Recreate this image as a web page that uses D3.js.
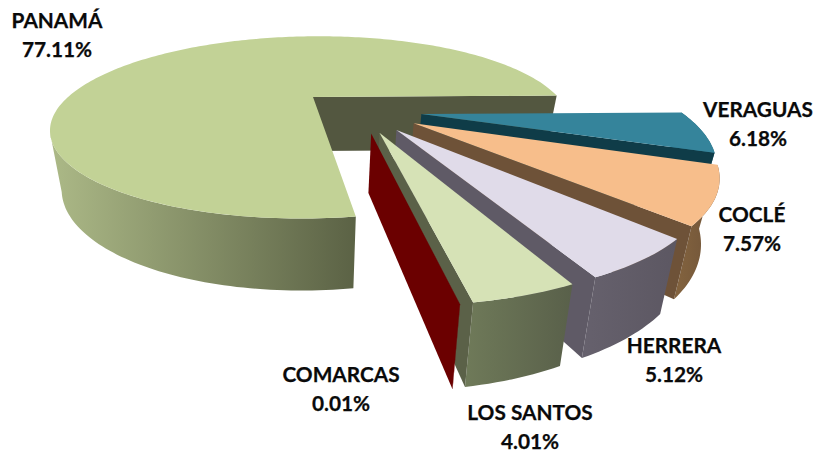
<!DOCTYPE html>
<html>
<head>
<meta charset="utf-8">
<script src="https://cdn.jsdelivr.net/npm/d3@7/dist/d3.min.js"></script>
<style>
html,body{margin:0;padding:0;background:#fff}
text{font-family:Lato,"Open Sans",sans-serif;font-weight:700;font-size:20.8px;fill:#0a0a0a;text-anchor:middle;stroke:#0a0a0a;stroke-width:.25px}
</style>
</head>
<body>
<svg id="c" width="817" height="454"></svg>
<script>
const categories = ["VERAGUAS","COCLÉ","HERRERA","LOS SANTOS","COMARCAS","PANAMÁ"];
const shares     = [6.18, 7.57, 5.12, 4.01, 0.01, 77.11];
const shareLabels = ["6.18%","7.57%","5.12%","4.01%","0.01%","77.11%"];

// styling and layout, separate from the data
const topColors  = ["#35849b","#f7be8b","#e0dbe9","#d6e2b6","#6b0000","#c2d296"];
const sideColors = ["#0f3c48","#6e5238","#5f5a66","#5b6148","#6b0000","#535740"];
const wallFrom   = ["#2a6a7c","#84643f","#66616d","#6f7a59","#6b0000","#acb987"];
const wallTo     = ["#2a6a7c","#6e5238","#5c5762","#59604a","#6b0000","#5b6245"];
const labelAt    = [[758,117],[752,222],[674,353],[530,420],[341,382],[57,28]];
const labelGap = 29;
const drawOrder  = [5,0,1,2,3,4];

const startDeg = 89, explode = 0.24;
const topPlane = {x0:313, y0:97,  ax:245, sx:-8, by:81, p:1/3};
const botPlane = {x0:313, y0:151, ax:234, sx:-8, by:93, p:1/3};
const project = (pl,u,v) => { const w = 1 - pl.p*v; return [pl.x0 + (pl.ax*u + pl.sx*v)/w, pl.y0 + pl.by*v/w]; };

const arcs = d3.pie().sort(null).value(d=>d)
  .startAngle(startDeg*Math.PI/180).endAngle(startDeg*Math.PI/180 + 2*Math.PI)(shares);
const dir = a => [Math.sin(a), -Math.cos(a)];
const mid = d => (d.startAngle + d.endAngle)/2;
const basePanama = dir(mid(arcs[5]));

const svg = d3.select("#c");
const defs = svg.append("defs");
const line = d3.line();

function samples(a,b){
  const n = Math.max(2, Math.ceil(Math.abs(b-a)/0.02));
  return d3.range(n+1).map(i => a + (b-a)*i/n);
}

drawOrder.forEach(i => {
  const d = arcs[i];
  const m = dir(mid(d));
  const cu = explode*(m[0]-basePanama[0]), cv = explode*(m[1]-basePanama[1]);
  const rim = (pl,a) => { const q = dir(a); return project(pl, cu+q[0], cv+q[1]); };
  const T0 = project(topPlane,cu,cv), B0 = project(botPlane,cu,cv);
  const g = svg.append("g");

  // outer wall: for the large slice only the front-facing part, up to the left tangent
  const ws = d.startAngle;
  const we = i===5 ? d.startAngle + 76*Math.PI/180 : d.endAngle;
  const ang = samples(ws, we);
  const topArc = ang.map(a=>rim(topPlane,a));
  const botArc = ang.map(a=>rim(botPlane,a));
  const xs = topArc.concat(botArc).map(p=>p[0]);
  const gid = "w"+i;
  const lg = defs.append("linearGradient").attr("id",gid).attr("gradientUnits","userSpaceOnUse")
    .attr("x1",d3.min(xs)).attr("x2",d3.max(xs)).attr("y1",0).attr("y2",0);
  lg.append("stop").attr("offset",0).attr("stop-color",wallFrom[i]);
  lg.append("stop").attr("offset",1).attr("stop-color",wallTo[i]);
  g.append("path").attr("d", line(topArc.concat(botArc.slice().reverse()))+"Z").attr("fill",`url(#${gid})`);

  // cut face at the clockwise end of the slice
  const a1 = rim(topPlane,d.endAngle), b1 = rim(botPlane,d.endAngle);
  g.append("path").attr("d", line([T0,a1,b1,B0])+"Z").attr("fill",sideColors[i]);

  // top face
  const face = [T0].concat(samples(d.startAngle,d.endAngle).map(a=>rim(topPlane,a)));
  g.append("path").attr("d", line(face)+"Z").attr("fill",topColors[i]);
});

categories.forEach((c,i) => {
  const t = svg.append("g");
  t.append("text").attr("x",labelAt[i][0]).attr("y",labelAt[i][1]).text(c);
  t.append("text").attr("x",labelAt[i][0]).attr("y",labelAt[i][1]+labelGap).text(shareLabels[i]);
});
</script>
</body>
</html>
